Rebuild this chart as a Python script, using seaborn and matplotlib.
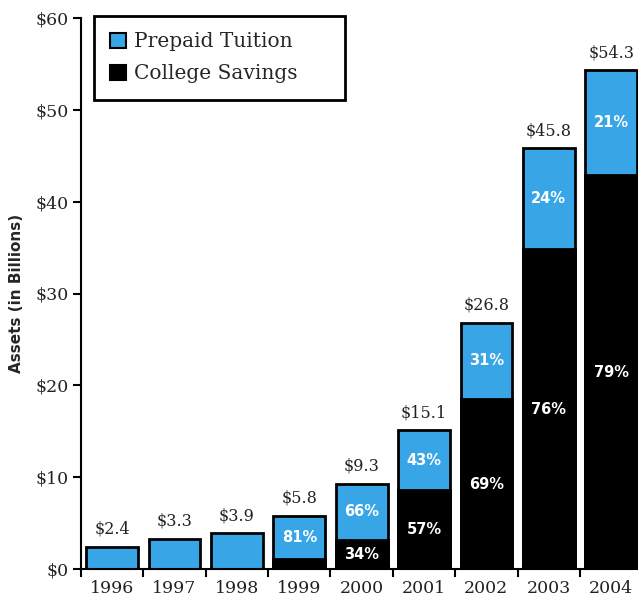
import numpy as np
import pandas as pd
import matplotlib
matplotlib.use("Agg")
import matplotlib.pyplot as plt
import seaborn as sns
from matplotlib.patches import Patch

# Datos (miles de millones de dólares)
years = ["1996", "1997", "1998", "1999", "2000", "2001", "2002", "2003", "2004"]
totals = [2.4, 3.3, 3.9, 5.8, 9.3, 15.1, 26.8, 45.8, 54.3]
savings = [0, 0, 0, 1.1, 3.2, 8.6, 18.5, 34.8, 42.9]
prepaid_pct = ["", "", "", "81%", "66%", "43%", "31%", "24%", "21%"]
savings_pct = ["", "", "", "", "34%", "57%", "69%", "76%", "79%"]

blue = "#38A6E6"
df = pd.DataFrame({"year": years, "total": totals, "savings": savings})

sns.set_style("white")
plt.rcParams["font.family"] = ["DejaVu Serif"]

fig = plt.figure(figsize=(6.38, 6.03), dpi=100)
ax = fig.add_axes([81 / 638, 34 / 603, 557 / 638, 551 / 603])

sns.barplot(data=df, x="year", y="total", color=blue, edgecolor="black",
            linewidth=2, width=0.83, saturation=1, ax=ax)
sns.barplot(data=df, x="year", y="savings", color="black", edgecolor="black",
            linewidth=2, width=0.83, saturation=1, ax=ax)

for i in range(len(years)):
    ax.text(i, totals[i] + 1.0, f"${totals[i]}", ha="center", va="bottom",
            fontsize=11.5, color="#222222")
    if prepaid_pct[i]:
        ax.text(i, (totals[i] + savings[i]) / 2, prepaid_pct[i], ha="center",
                va="center", fontsize=10.5, fontweight="bold", color="white",
                family="DejaVu Sans")
    if savings_pct[i]:
        ax.text(i, savings[i] / 2, savings_pct[i], ha="center", va="center",
                fontsize=10.5, fontweight="bold", color="white",
                family="DejaVu Sans")

ax.set_xlim(-0.5, 8.43)
ax.set_ylim(0, 60)
ax.set_yticks(np.arange(0, 61, 10))
ax.set_yticklabels([f"${v}" for v in range(0, 61, 10)], fontsize=12.5, color="#222222")
ax.set_xticks(range(len(years)))
ax.set_xticklabels(years, fontsize=12.5, color="#222222")
ax.set_xticks(np.arange(-0.5, 8.5, 1), minor=True)
ax.tick_params(axis="x", which="major", bottom=True, length=0, pad=8)
ax.tick_params(axis="x", which="minor", bottom=True, length=6, width=1.5,
               direction="out", color="black")
ax.tick_params(axis="y", left=True, length=6, width=1.5, direction="out",
               pad=3, color="black")
ax.set_xlabel("")
ax.set_ylabel("Assets (in Billions)", fontsize=11, fontweight="bold",
              family="DejaVu Sans", labelpad=8)

for s in ["top", "right"]:
    ax.spines[s].set_visible(False)
for s in ["left", "bottom"]:
    ax.spines[s].set_linewidth(1.5)
    ax.spines[s].set_color("black")

handles = [Patch(facecolor=blue, edgecolor="black", linewidth=1.5, label="Prepaid Tuition"),
           Patch(facecolor="black", edgecolor="black", linewidth=1.5, label="College Savings")]
leg = ax.legend(handles=handles, loc="upper left",
                bbox_to_anchor=(0.023, 0.5, 0.451, 0.504), mode="expand",
                borderaxespad=0, fontsize=14.5, frameon=True, fancybox=False,
                edgecolor="black", framealpha=1,
                handlelength=0.8, handleheight=0.8, handletextpad=0.4,
                borderpad=0.82, labelspacing=0.65)
leg.get_frame().set_linewidth(2)

fig.savefig("out.png", dpi=100)
